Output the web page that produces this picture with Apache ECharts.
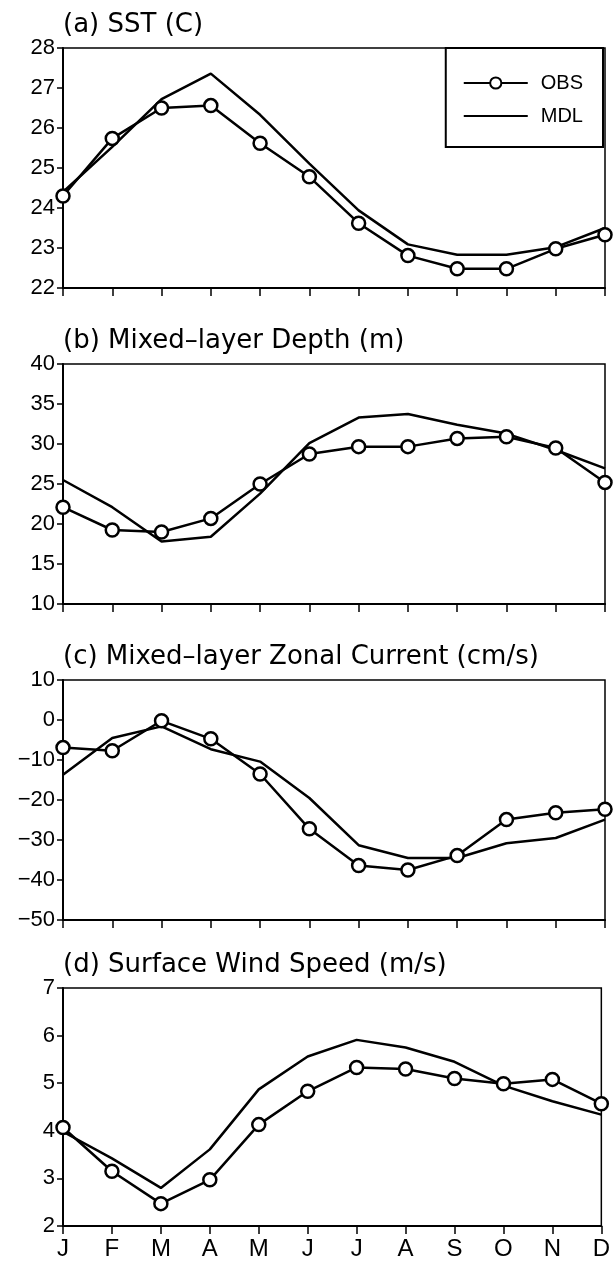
<!DOCTYPE html>
<html>
<head>
<meta charset="utf-8">
<script src="https://cdn.jsdelivr.net/npm/echarts@6/dist/echarts.min.js"></script>
<style>
  html, body { margin: 0; padding: 0; background: #fff; }
  #chart { width: 613px; height: 1261px; }
</style>
</head>
<body>
<div id="chart"></div>
<script>
const months = ['J', 'F', 'M', 'A', 'M', 'J', 'J', 'A', 'S', 'O', 'N', 'D']

// (a) SST (C)
const sstObs = [24.3, 25.74, 26.5, 26.56, 25.62, 24.78, 23.62, 22.81, 22.48, 22.48, 22.98, 23.33]
const sstMdl = [24.4, 25.53, 26.72, 27.36, 26.33, 25.11, 23.94, 23.09, 22.83, 22.83, 23.02, 23.5]

// (b) Mixed-layer Depth (m)
const mldObs = [22.1, 19.25, 19.0, 20.7, 25.0, 28.75, 29.67, 29.67, 30.7, 30.9, 29.5, 25.2]
const mldMdl = [25.5, 22.1, 17.8, 18.4, 23.8, 30.1, 33.3, 33.75, 32.4, 31.3, 29.25, 26.96]

// (c) Mixed-layer Zonal Current (cm/s)
const curObs = [-6.9, -7.7, -0.2, -4.7, -13.5, -27.2, -36.4, -37.5, -33.9, -24.9, -23.2, -22.3]
const curMdl = [-13.7, -4.5, -1.6, -7.3, -10.4, -19.5, -31.3, -34.5, -34.5, -30.8, -29.5, -24.9]

// (d) Surface Wind Speed (m/s)
const windObs = [4.07, 3.15, 2.47, 2.97, 4.13, 4.83, 5.33, 5.30, 5.10, 4.99, 5.08, 4.57]
const windMdl = [3.98, 3.42, 2.80, 3.61, 4.87, 5.56, 5.91, 5.75, 5.45, 4.95, 4.62, 4.34]

const titles = [
  '(a) SST (C)',
  '(b) Mixed\u2013layer Depth (m)',
  '(c) Mixed\u2013layer Zonal Current (cm/s)',
  '(d) Surface Wind Speed (m/s)'
]
const yRanges = [[22, 28, 1], [10, 40, 5], [-50, 10, 10], [2, 7, 1]]
const obsData = [sstObs, mldObs, curObs, windObs]
const mdlData = [sstMdl, mldMdl, curMdl, windMdl]

const titleFont = 'DejaVu Sans, sans-serif'
const labelFont = 'Liberation Sans, Arial, sans-serif'
const gridTops = [48, 364, 680, 988]
const gridHeight = 240

const chart = echarts.init(document.getElementById('chart'))

const grids = gridTops.map(top => ({
  left: 63, right: 8, top: top, height: gridHeight,
  show: true, borderColor: '#000', borderWidth: 1.5, backgroundColor: 'transparent'
}))

const xAxes = gridTops.map((_, i) => ({
  type: 'category',
  gridIndex: i,
  data: months,
  boundaryGap: false,
  axisLine: { onZero: false, lineStyle: { color: '#000', width: 2 } },
  axisTick: { show: true, length: 8, inside: false, lineStyle: { color: '#000', width: 1.5 } },
  axisLabel: {
    show: i === 3, color: '#000', fontFamily: labelFont, fontSize: 24, margin: 11
  },
  splitLine: { show: false }
}))

const yAxes = yRanges.map((r, i) => ({
  type: 'value',
  gridIndex: i,
  min: r[0], max: r[1], interval: r[2],
  axisLine: { show: true, lineStyle: { color: '#000', width: 2 } },
  axisTick: { show: true, length: 6, lineStyle: { color: '#000', width: 1.5 } },
  axisLabel: {
    color: '#000', fontFamily: labelFont, fontSize: 22, margin: 8,
    formatter: v => String(v).replace('-', '\u2212')
  },
  splitLine: { show: false }
}))

const series = []
for (let i = 0; i < 4; i++) {
  series.push({
    name: 'MDL',
    type: 'line',
    xAxisIndex: i, yAxisIndex: i,
    data: mdlData[i],
    symbol: 'none',
    lineStyle: { color: '#000', width: 2.5 },
    itemStyle: { color: 'transparent', borderColor: 'transparent' },
    z: 2
  })
  series.push({
    name: 'OBS',
    type: 'line',
    xAxisIndex: i, yAxisIndex: i,
    data: obsData[i],
    symbol: 'circle',
    symbolSize: 13,
    lineStyle: { color: '#000', width: 2.5 },
    itemStyle: { color: '#fff', borderColor: '#000', borderWidth: 2.5 },
    z: 3
  })
}

const option = {
  backgroundColor: '#fff',
  animation: false,
  title: titles.map((t, i) => ({
    text: t,
    left: 58,
    top: gridTops[i] - 41,
    textStyle: { fontFamily: titleFont, fontSize: 26, fontWeight: 'normal', color: '#000' }
  })),
  legend: {
    data: ['OBS', 'MDL'],
    orient: 'vertical',
    right: 10,
    top: 48,
    backgroundColor: '#fff',
    borderColor: '#000',
    borderWidth: 2,
    padding: [25, 20, 21, 17],
    itemWidth: 64,
    itemHeight: 14,
    itemGap: 13,
    textStyle: { fontFamily: labelFont, fontSize: 20, color: '#000', padding: [0, 0, 0, 8] }
  },
  grid: grids,
  xAxis: xAxes,
  yAxis: yAxes,
  series: series
}

chart.setOption(option)
</script>
</body>
</html>
